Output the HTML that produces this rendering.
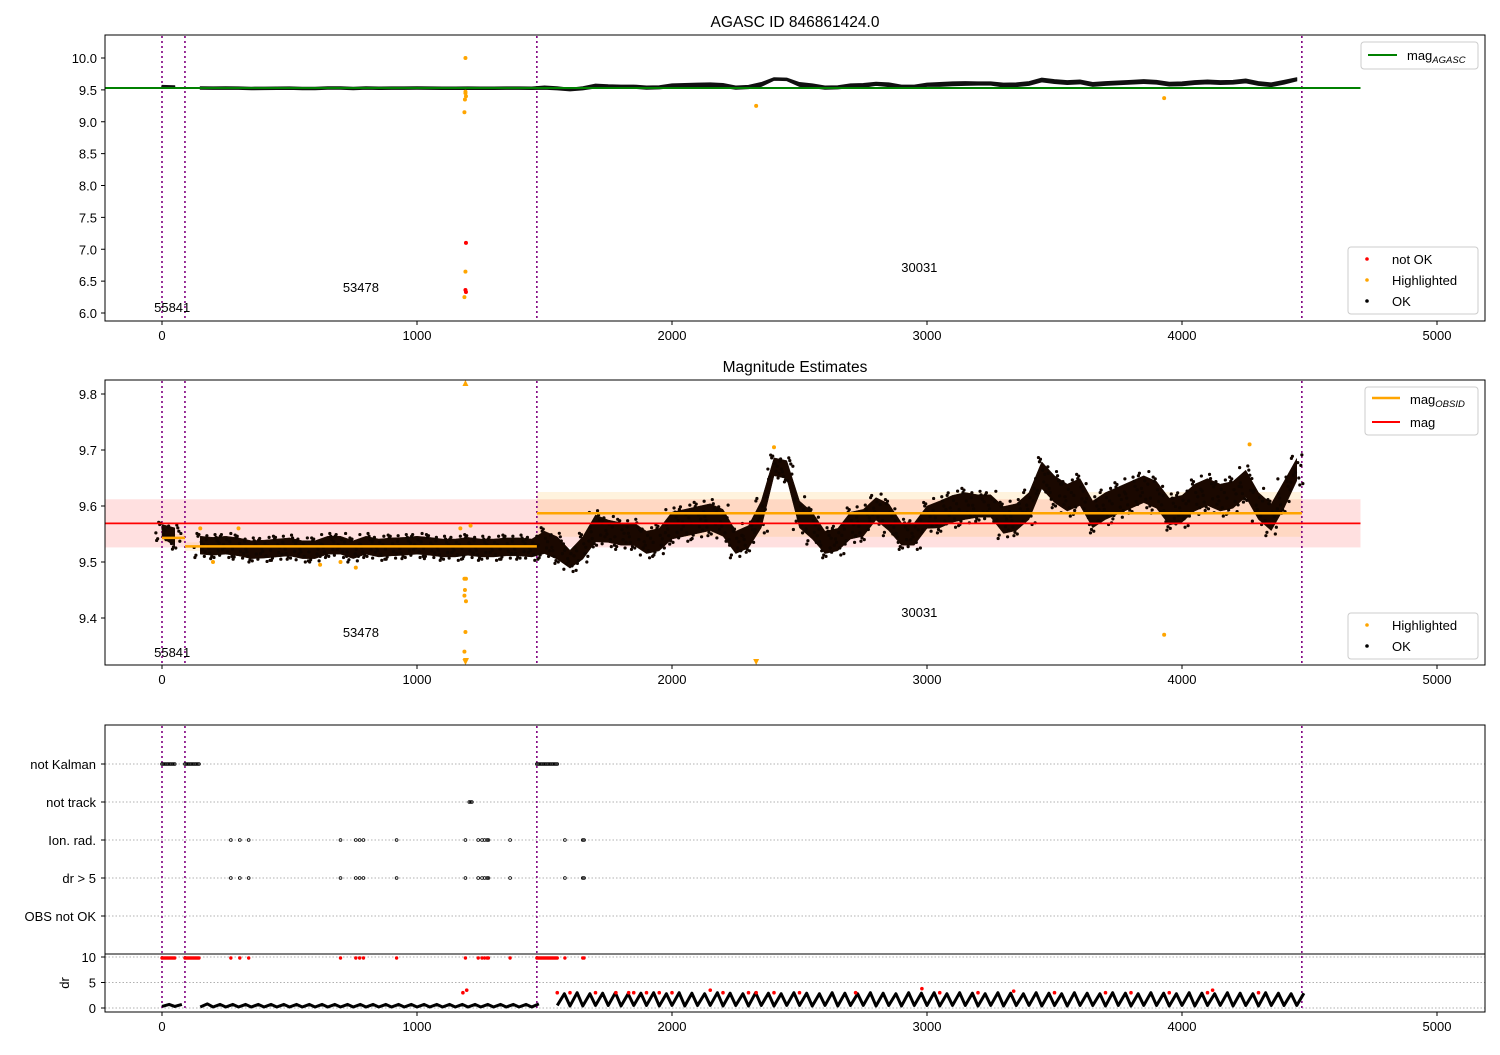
<!DOCTYPE html>
<html><head><meta charset="utf-8">
<style>
body{margin:0;background:#fff;}
svg{font-family:"Liberation Sans","DejaVu Sans",sans-serif;}
text{fill:#000;}
</style></head>
<body>
<svg id="chart" width="1500" height="1050" viewBox="0 0 1500 1050" xmlns="http://www.w3.org/2000/svg">
<rect x="0" y="0" width="1500" height="1050" fill="#fff"/>
<g id="g1"></g>
<g id="g2"></g>
<g id="g3"></g>
</svg>
<script>
// ---- data ----
const sampleTimes = [0,50,100,150,200,250,300,350,400,450,500,550,600,650,700,750,800,850,900,950,1000,1050,1100,1150,1200,1250,1300,1350,1400,1450,1500,1550,1600,1650,1700,1750,1800,1850,1900,1950,2000,2050,2100,2150,2200,2250,2300,2350,2400,2450,2500,2550,2600,2650,2700,2750,2800,2850,2900,2950,3000,3050,3100,3150,3200,3250,3300,3350,3400,3450,3500,3550,3600,3650,3700,3750,3800,3850,3900,3950,4000,4050,4100,4150,4200,4250,4300,4350,4400,4450];
const magMean = [9.555,9.545,null,9.53,9.528,9.53,9.527,9.522,9.523,9.525,9.527,9.522,9.522,9.53,9.53,9.522,9.53,9.525,9.527,9.528,9.53,9.528,9.525,9.525,9.528,9.525,9.525,9.527,9.527,9.525,9.535,9.525,9.505,9.525,9.56,9.555,9.55,9.55,9.535,9.54,9.565,9.57,9.575,9.58,9.57,9.535,9.545,9.585,9.67,9.665,9.585,9.565,9.535,9.54,9.565,9.57,9.595,9.58,9.55,9.55,9.58,9.585,9.595,9.6,9.6,9.6,9.575,9.58,9.6,9.655,9.63,9.615,9.625,9.585,9.6,9.61,9.62,9.63,9.62,9.59,9.595,9.615,9.625,9.615,9.62,9.64,9.6,9.58,9.62,9.665];
const magSpread = [0.015,0.02,0,0.02,0.02,0.02,0.02,0.02,0.02,0.02,0.02,0.02,0.02,0.02,0.02,0.02,0.02,0.02,0.02,0.02,0.02,0.02,0.02,0.02,0.02,0.02,0.02,0.02,0.02,0.02,0.025,0.025,0.02,0.025,0.03,0.025,0.025,0.025,0.025,0.025,0.03,0.03,0.03,0.03,0.03,0.025,0.025,0.03,0.02,0.02,0.03,0.03,0.025,0.025,0.03,0.03,0.025,0.03,0.025,0.025,0.025,0.03,0.03,0.03,0.025,0.025,0.03,0.03,0.03,0.03,0.03,0.03,0.03,0.03,0.03,0.03,0.03,0.03,0.03,0.03,0.03,0.03,0.03,0.03,0.03,0.03,0.03,0.03,0.03,0.025];
const drLo = [0.3,0.3,null,0.2,0.2,0.2,0.2,0.2,0.2,0.2,0.2,0.2,0.2,0.2,0.2,0.2,0.2,0.2,0.2,0.2,0.2,0.2,0.2,0.2,0.2,0.2,0.2,0.2,0.2,0.2,null,0.5,0.4,0.4,0.5,0.5,0.4,0.5,0.5,0.4,0.5,0.4,0.5,0.5,0.4,0.5,0.4,0.5,0.4,0.5,0.5,0.4,0.5,0.4,0.5,0.5,0.4,0.5,0.4,0.5,0.5,0.4,0.5,0.5,0.4,0.5,0.4,0.5,0.5,0.4,0.5,0.4,0.5,0.5,0.4,0.5,0.4,0.5,0.5,0.4,0.5,0.4,0.5,0.5,0.4,0.5,0.4,0.5,0.5,0.5];
const drHi = [0.7,0.7,null,0.8,0.7,0.7,0.7,0.7,0.7,0.7,0.7,0.7,0.7,0.7,0.7,0.7,0.7,0.7,0.7,0.7,0.7,0.7,0.7,0.7,0.7,0.7,0.7,0.7,0.7,0.8,null,2.8,3.0,2.8,2.9,3.0,2.8,2.9,3.0,2.8,3.0,2.9,2.8,3.0,2.9,2.8,3.0,2.9,2.8,3.0,2.9,2.8,3.0,2.9,2.8,3.0,2.9,2.8,3.0,2.9,3.0,2.8,3.0,2.9,2.8,3.0,2.9,2.8,3.0,2.9,2.8,3.0,2.9,2.8,3.0,2.9,2.8,3.0,2.9,2.8,3.0,2.9,2.8,3.0,2.9,2.8,3.0,2.9,2.8,2.9];
const hlTimes1 = [1190,1190,1190,1192,1188,1186,1190,1186,2330,3930];
const hlMags1 = [10.0,9.47,9.45,9.40,9.35,9.15,6.65,6.25,9.25,9.37];
const badTimes1 = [1192,1190,1192];
const badMags1 = [7.1,6.36,6.33];
const hlTimes2 = [1186,1192,1188,1186,1192,1186,1190,2400,4265,150,200,300,620,760,700,1170,1210,3930];
const hlMags2 = [9.47,9.47,9.45,9.44,9.43,9.34,9.375,9.705,9.71,9.56,9.50,9.56,9.495,9.49,9.50,9.56,9.565,9.37];
const segStart = [0,90,1470];
const segEnd = [90,1470,4470];
const segMag = [9.543,9.528,9.587];
const segLo = [9.535,9.52,9.545];
const segHi = [9.55,9.535,9.625];
const magAll = 9.569, magAllLo = 9.526, magAllHi = 9.612, magAgasc = 9.53;
const obsBounds = [0,90,1470,4470];
const obsLabels = ['55841','53478','30031'];
const obsLabelT = [40,780,2970];
const xTicks = [0,1000,2000,3000,4000,5000];
const y1Ticks = [6.0,6.5,7.0,7.5,8.0,8.5,9.0,9.5,10.0];
const y2Ticks = [9.4,9.5,9.6,9.7,9.8];
const flagCats = ['not Kalman','not track','Ion. rad.','dr > 5','OBS not OK'];
const notKalmanT = [0,5,10,15,20,25,30,35,40,45,50,90,95,100,105,110,115,120,125,130,135,140,145,1470,1475,1480,1485,1490,1495,1500,1505,1510,1515,1520,1525,1530,1535,1540,1545,1550];
const notTrackT = [1205,1210,1215];
const ionT = [270,305,340,700,760,775,790,920,1190,1240,1255,1265,1275,1280,1365,1580,1650,1655];
const drBigT = [270,305,340,700,760,775,790,920,1190,1240,1255,1265,1275,1280,1365,1580,1650,1655];
const drRedT = [1550,1600,1700,1780,1830,1850,1900,1950,2000,2150,2200,2300,2330,2400,2500,2720,2980,3050,3200,3340,3500,3700,3800,3950,4100,4120,4300,1180,1195];
const drRedV = [3,3,3,3,3,3,3,3,3,3.5,3,3,3,3,3,3,3.8,3,3,3.3,3,3,3,3,3,3.5,3,3,3.5];

// ---- helpers ----
const NS='http://www.w3.org/2000/svg';
function el(parent,tag,attrs,txt){const e=document.createElementNS(NS,tag);for(const k in attrs)e.setAttribute(k,attrs[k]);if(txt!==undefined)e.textContent=txt;parent.appendChild(e);return e;}
const X0=105,X1=1485;
function xs(t){return 162+t*0.255;}
function ys1(v){return 58+(10-v)*63.75;}
function ys2(v){return 394+(9.8-v)*560;}
function ysDr(v){return 1008-Math.min(v,10)*5.1;}

function frame(g,top,bot){el(g,'rect',{x:X0,y:top,width:X1-X0,height:bot-top,fill:'none',stroke:'#000','stroke-width':1});}
function xAxis(g,bot,name){
  xTicks.forEach(t=>{const x=xs(t);
    const tk=el(g,'line',{x1:x,y1:bot,x2:x,y2:bot+4,stroke:'#000'});
    
    const tl=el(g,'text',{x:x,y:bot+19,'font-size':13,'text-anchor':'middle'},String(t));
    
  });
}
function yAxis(g,ticks,ys,name,dec){
  ticks.forEach(v=>{const y=ys(v);
    el(g,'line',{x1:X0-4,y1:y,x2:X0,y2:y,stroke:'#000'});
    const tl=el(g,'text',{x:X0-8,y:y+5,'font-size':13,'text-anchor':'end'},v.toFixed(dec));
    
  });
}
function vlines(g,top,bot){
  obsBounds.forEach(t=>{const l=el(g,'line',{x1:xs(t),y1:top,x2:xs(t),y2:bot,stroke:'#800080','stroke-width':1.6,'stroke-dasharray':'2,3'});
    });
}
function band(g,ys,lo,hi,fill,name,sw){
  let segs=[],cur=[];
  sampleTimes.forEach((t,i)=>{const a=lo(i),b=hi(i);if(a===null||b===null){if(cur.length)segs.push(cur);cur=[];}else cur.push([t,a,b]);});
  if(cur.length)segs.push(cur);
  segs.forEach(s=>{
    if(s.length===1){s=[[s[0][0]-20,s[0][1],s[0][2]],[s[0][0]+20,s[0][1],s[0][2]]];}
    const pts=s.map(p=>xs(p[0])+','+ys(p[2])).concat(s.slice().reverse().map(p=>xs(p[0])+','+ys(p[1])));
    const pg=el(g,'polygon',{points:pts.join(' '),fill:fill,stroke:fill,'stroke-width':sw,'stroke-linejoin':'round'});
    
  });
}
const jf=[-1.1,-0.6,-0.2,0.3,0.8,1.05,-0.9,0.5,0.05,-0.4,0.95,-1.0];
const jt=[-21,-13,-5,4,12,20,-17,16,-9,8,-24,24];
function dotsCloud(g,ys,r,name){
  sampleTimes.forEach((t,i)=>{const m=magMean[i];if(m===null)return;const s=magSpread[i];
    jf.forEach((f,j)=>{
      const ff=jf[(j*5+i)%jf.length];
      const c=el(g,'circle',{cx:xs(t+jt[(j+i)%jt.length]),cy:ys(m+s*ff),r:r,fill:'#120600'});
      
    });
  });
}

// ---- panel 1 ----
const g1=document.getElementById('g1');
{const t=el(g1,'text',{x:795,y:27,'font-size':15.5,'text-anchor':'middle'},'AGASC ID 846861424.0');}
vlines(g1,36,320);
band(g1,ys1,i=>magMean[i]===null?null:magMean[i]-magSpread[i],i=>magMean[i]===null?null:magMean[i]+magSpread[i],'#111','ok-points',1);
{const l=el(g1,'line',{x1:X0,y1:ys1(magAgasc),x2:xs(4700),y2:ys1(magAgasc),stroke:'#008000','stroke-width':2});}
hlTimes1.forEach((t,i)=>{const c=el(g1,'circle',{cx:xs(t),cy:ys1(hlMags1[i]),r:2,fill:'#ffa500'});});
badTimes1.forEach((t,i)=>{const c=el(g1,'circle',{cx:xs(t),cy:ys1(badMags1[i]),r:2,fill:'#ff0000'});});
obsLabels.forEach((s,i)=>{const t=el(g1,'text',{x:xs(obsLabelT[i]),y:[312,292,272][i],'font-size':13,'text-anchor':'middle'},s);});
frame(g1,35,321);xAxis(g1,321,'x1');yAxis(g1,y1Ticks,ys1,'y1',1);
{const lg=el(g1,'g',{});
 el(lg,'rect',{x:1361,y:42,width:117,height:27,rx:3,fill:'#fff',stroke:'#ccc'});
 el(lg,'line',{x1:1368,y1:55,x2:1397,y2:55,stroke:'#008000','stroke-width':2});
 const t=el(lg,'text',{x:1407,y:60,'font-size':13},'mag');el(t,'tspan',{'font-size':9.5,'font-style':'italic',dy:3},'AGASC');}
{const lg=el(g1,'g',{});
 el(lg,'rect',{x:1348,y:247,width:130,height:67,rx:3,fill:'#fff',stroke:'#ccc'});
 [['not OK','#ff0000',259],['Highlighted','#ffa500',280],['OK','#000',301]].forEach(a=>{el(lg,'circle',{cx:1367,cy:a[2],r:1.8,fill:a[1]});el(lg,'text',{x:1392,y:a[2]+5,'font-size':13},a[0]);});}

// ---- panel 2 ----
const g2=document.getElementById('g2');
{const t=el(g2,'text',{x:795,y:372,'font-size':15.5,'text-anchor':'middle'},'Magnitude Estimates');}
{const r=el(g2,'rect',{x:X0,y:ys2(magAllHi),width:xs(4700)-X0,height:ys2(magAllLo)-ys2(magAllHi),fill:'#ff0000','fill-opacity':0.12});}
segStart.forEach((s,i)=>{const r=el(g2,'rect',{x:xs(s),y:ys2(segHi[i]),width:xs(segEnd[i])-xs(s),height:ys2(segLo[i])-ys2(segHi[i]),fill:'#ffa500','fill-opacity':0.13});});
vlines(g2,381,664);
band(g2,ys2,i=>magMean[i]===null?null:magMean[i]-magSpread[i]*0.8,i=>magMean[i]===null?null:magMean[i]+magSpread[i]*0.8,'#1a0800','ok-cloud',0.5);
dotsCloud(g2,ys2,1.6,'ok-point');
segStart.forEach((s,i)=>{const l=el(g2,'line',{x1:xs(s),y1:ys2(segMag[i]),x2:xs(segEnd[i]),y2:ys2(segMag[i]),stroke:'#ffa500','stroke-width':2.5});});
{const l=el(g2,'line',{x1:X0,y1:ys2(magAll),x2:xs(4700),y2:ys2(magAll),stroke:'#ff0000','stroke-width':1.8});}
hlTimes2.forEach((t,i)=>{const c=el(g2,'circle',{cx:xs(t),cy:ys2(hlMags2[i]),r:2,fill:'#ffa500'});});
[[1190,383,1],[1190,662,-1],[1192,661,-1],[2330,662,-1]].forEach(a=>{const x=xs(a[0]),y=a[1],d=a[2];const p=el(g2,'polygon',{points:`${x-3},${y+d*3} ${x+3},${y+d*3} ${x},${y-d*3}`,fill:'#ffa500'});});
obsLabels.forEach((s,i)=>{const t=el(g2,'text',{x:xs(obsLabelT[i]),y:[657,637,617][i],'font-size':13,'text-anchor':'middle'},s);});
frame(g2,380,665);xAxis(g2,665,'x2');yAxis(g2,y2Ticks,ys2,'y2',1);
{const lg=el(g2,'g',{});
 el(lg,'rect',{x:1365,y:387,width:113,height:48,rx:3,fill:'#fff',stroke:'#ccc'});
 el(lg,'line',{x1:1372,y1:398,x2:1400,y2:398,stroke:'#ffa500','stroke-width':2.5});
 const t=el(lg,'text',{x:1410,y:404,'font-size':13},'mag');el(t,'tspan',{'font-size':9.5,'font-style':'italic',dy:3},'OBSID');
 el(lg,'line',{x1:1372,y1:422,x2:1400,y2:422,stroke:'#ff0000','stroke-width':2});
 el(lg,'text',{x:1410,y:427,'font-size':13},'mag');}
{const lg=el(g2,'g',{});
 el(lg,'rect',{x:1348,y:613,width:130,height:46,rx:3,fill:'#fff',stroke:'#ccc'});
 [['Highlighted','#ffa500',625],['OK','#000',646]].forEach(a=>{el(lg,'circle',{cx:1367,cy:a[2],r:1.8,fill:a[1]});el(lg,'text',{x:1392,y:a[2]+5,'font-size':13},a[0]);});}

// ---- panel 3 ----
const g3=document.getElementById('g3');
const catY=[764,802,840,878,916];
flagCats.forEach((c,i)=>{
  el(g3,'line',{x1:X0,y1:catY[i],x2:X1,y2:catY[i],stroke:'#b0b0b0','stroke-dasharray':'1.5,2'});
  el(g3,'line',{x1:X0-4,y1:catY[i],x2:X0,y2:catY[i],stroke:'#000'});
  const t=el(g3,'text',{x:X0-9,y:catY[i]+5,'font-size':13,'text-anchor':'end'},c);
  
});
[0,5,10].forEach(v=>{el(g3,'line',{x1:X0,y1:ysDr(v),x2:X1,y2:ysDr(v),stroke:'#b0b0b0','stroke-dasharray':'1.5,2'});
  el(g3,'line',{x1:X0-4,y1:ysDr(v),x2:X0,y2:ysDr(v),stroke:'#000'});
  const t=el(g3,'text',{x:X0-9,y:ysDr(v)+5,'font-size':13,'text-anchor':'end'},String(v));});
{const t=el(g3,'text',{x:69,y:983,'font-size':13,'text-anchor':'middle',transform:'rotate(-90 69 983)'},'dr');}
el(g3,'line',{x1:X0,y1:954,x2:X1,y2:954,stroke:'#000'});
vlines(g3,726,1011);
function flagPts(ts,y,name){ts.forEach(t=>{const c=el(g3,'circle',{cx:xs(t),cy:y,r:1.4,fill:'none',stroke:'#000','stroke-width':0.8});});}
flagPts(notKalmanT,catY[0],'not-kalman-point');
flagPts(notTrackT,catY[1],'not-track-point');
flagPts(ionT,catY[2],'ion-rad-point');
flagPts(drBigT,catY[3],'dr-gt-5-point');
{let segs=[],cur=[];
 sampleTimes.forEach((t,i)=>{if(drLo[i]===null){if(cur.length)segs.push(cur);cur=[];return;}
   cur.push([xs(t),ysDr(drLo[i])]);cur.push([xs(t+28),ysDr(drHi[i])]);});
 if(cur.length)segs.push(cur);
 segs.forEach(s=>{const p=el(g3,'polyline',{points:s.map(q=>q.join(',')).join(' '),fill:'none',stroke:'#000','stroke-width':3,'stroke-linejoin':'round'});
   });}
notKalmanT.concat(ionT).forEach(t=>{const p=el(g3,'circle',{cx:xs(t),cy:ysDr(10)+1,r:1.7,fill:'#ff0000'});});
drRedT.forEach((t,i)=>{const c=el(g3,'circle',{cx:xs(t),cy:ysDr(drRedV[i]),r:1.8,fill:'#ff0000'});});
frame(g3,725,1012);xAxis(g3,1012,'x3');
</script>
</body></html>
